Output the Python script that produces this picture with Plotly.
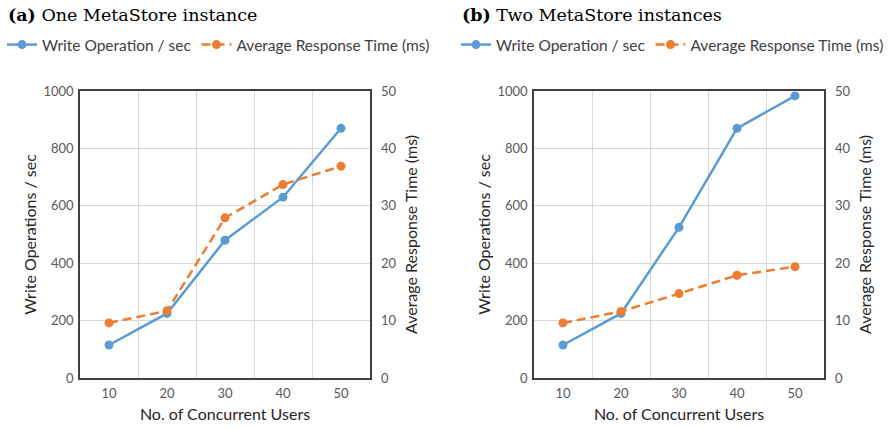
import plotly.graph_objects as go

users = [10, 20, 30, 40, 50]
tick_labels = ["10", "20", "30", "40", "50"]

# (a) One MetaStore instance
ops_a = [115, 225, 480, 630, 870]
resp_a = [9.6, 11.7, 27.9, 33.7, 36.9]

# (b) Two MetaStore instances
ops_b = [115, 225, 525, 870, 983]
resp_b = [9.6, 11.6, 14.7, 17.9, 19.4]

BLUE = "#5B9BD5"
ORANGE = "#ED7D31"
W, H = 896, 428
FONT = "Lato"

fig = go.Figure()

def add_panel(ops, resp, xa, ya, ya2, legend):
    fig.add_trace(go.Scatter(
        x=users, y=ops, mode="lines+markers", name="Write Operation / sec",
        line=dict(color=BLUE, width=2.5), marker=dict(color=BLUE, size=9),
        xaxis=xa, yaxis=ya, legend=legend))
    fig.add_trace(go.Scatter(
        x=users, y=resp, mode="lines+markers", name="Average Response Time (ms)",
        line=dict(color=ORANGE, width=2.5, dash="9px,5px"), marker=dict(color=ORANGE, size=9),
        xaxis=xa, yaxis=ya2, legend=legend))

add_panel(ops_a, resp_a, "x", "y", "y2", "legend")
add_panel(ops_b, resp_b, "x2", "y3", "y4", "legend2")

ydom = [1 - 378 / H, 1 - 91 / H]
xdom_a = [80 / W, 370 / W]
xdom_b = [534 / W, 824 / W]

tickfont = dict(family=FONT, size=13, color="#595959")
titlefont = dict(family=FONT, size=16, color="#262626")
LINE = "#404040"

def xaxis(dom, anchor):
    return dict(domain=dom, anchor=anchor, range=[5, 55], tickvals=users, ticktext=tick_labels,
                showgrid=False, zeroline=False, showline=True, mirror=True,
                linecolor=LINE, linewidth=1.5, tickfont=tickfont,
                minor=dict(tickvals=[15, 25, 35, 45], showgrid=True, gridcolor="#D9D9D9", gridwidth=1, ticks=""),
                title=dict(text="No. of Concurrent Users", font=titlefont, standoff=8),
                ticklabelstandoff=3, automargin=False)

def yleft(anchor):
    return dict(domain=ydom, anchor=anchor, range=[0, 1000], tickvals=[0, 200, 400, 600, 800, 1000],
                showgrid=True, gridcolor="#D9D9D9", gridwidth=1, zeroline=False,
                showline=True, mirror=True, linecolor=LINE, linewidth=1.5, tickfont=tickfont,
                title=dict(text="Write Operations / sec", font=titlefont, standoff=3),
                ticklabelstandoff=2, automargin=False)

def yright(anchor, over):
    return dict(domain=ydom, anchor=anchor, overlaying=over, side="right", range=[0, 50],
                tickvals=[0, 10, 20, 30, 40, 50], showgrid=False, zeroline=False,
                showline=False, tickfont=tickfont,
                title=dict(text="Average Response Time (ms)", font=titlefont, standoff=10),
                ticklabelstandoff=10, automargin=False)

legfont = dict(family=FONT, size=15.5, color="#404040")

fig.update_layout(
    width=W, height=H, margin=dict(l=0, r=0, t=0, b=0, autoexpand=False),
    paper_bgcolor="white", plot_bgcolor="white",
    xaxis=xaxis(xdom_a, "y"),
    yaxis=yleft("x"),
    yaxis2=yright("x", "y"),
    xaxis2=xaxis(xdom_b, "y3"),
    yaxis3=yleft("x2"),
    yaxis4=yright("x2", "y3"),
    legend=dict(orientation="h", xref="container", yref="container", x=2 / W, xanchor="left",
                y=1 - 45 / H, yanchor="middle", font=legfont, bgcolor="rgba(0,0,0,0)"),
    legend2=dict(orientation="h", xref="container", yref="container", x=456 / W, xanchor="left",
                 y=1 - 45 / H, yanchor="middle", font=legfont, bgcolor="rgba(0,0,0,0)"),
    annotations=[
        dict(text="<b>(a)</b> One MetaStore instance", x=6 / W, y=1 - 15 / H, xref="paper", yref="paper",
             xanchor="left", yanchor="middle", showarrow=False,
             font=dict(family="DejaVu Serif", size=17.5, color="black")),
        dict(text="<b>(b)</b> Two MetaStore instances", x=460 / W, y=1 - 15 / H, xref="paper", yref="paper",
             xanchor="left", yanchor="middle", showarrow=False,
             font=dict(family="DejaVu Serif", size=17.5, color="black")),
    ],
)

fig.write_html("out.html", config={"displayModeBar": False},
               post_script="document.body.style.margin='0px';")
